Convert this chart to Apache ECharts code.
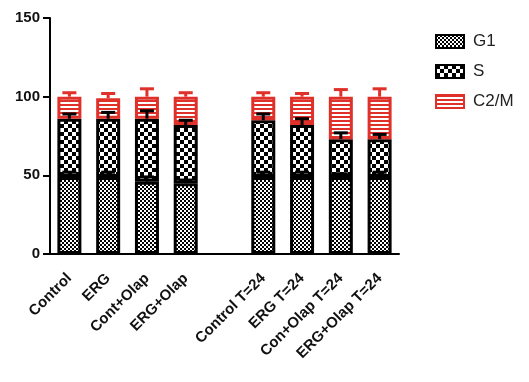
<!DOCTYPE html>
<html>
<head>
<meta charset="utf-8">
<script src="https://cdn.jsdelivr.net/npm/echarts@6/dist/echarts.min.js"></script>
<style>
html,body{margin:0;padding:0;background:#fff;}
#chart{width:529px;height:382px;}
</style>
</head>
<body>
<div id="chart"></div>
<script>
const categories = ['Control','ERG','Cont+Olap','ERG+Olap','','Control T=24','ERG T=24','Con+Olap T=24','ERG+Olap T=24'];
const g1Values  = [49, 49, 46, 45, null, 49, 49, 49, 49];
const sValues   = [37, 37, 40, 37, null, 36, 33, 24, 24];
const g2mValues = [14, 13, 14, 18, null, 15, 18, 27, 27];
const g1Err  = [3, 3, 3, 2, null, 3, 3, 2, 3];
const sErr   = [3, 4, 5, 3, null, 4, 4, 4, 3];
const g2mErr = [2.5, 3, 5, 2.5, null, 2.5, 2, 4.5, 5];
const yTicks = [0, 50, 100, 150];
const seriesNames = ['G1', 'S', 'C2/M'];

const RED = '#e0302a';

function checkPattern(size) {
  const c = document.createElement('canvas');
  c.width = size * 2; c.height = size * 2;
  const ctx = c.getContext('2d');
  ctx.fillStyle = '#fff'; ctx.fillRect(0, 0, size * 2, size * 2);
  ctx.fillStyle = '#000';
  ctx.fillRect(0, 0, size, size);
  ctx.fillRect(size, size, size, size);
  return c;
}
function stripePattern() {
  const c = document.createElement('canvas');
  c.width = 4; c.height = 4;
  const ctx = c.getContext('2d');
  ctx.fillStyle = '#fff'; ctx.fillRect(0, 0, 4, 4);
  ctx.fillStyle = RED; ctx.fillRect(0, 0, 4, 2);
  return c;
}

const toData = arr => arr.map(v => v == null ? '-' : v);

function errData(kind) {
  const out = [];
  for (let i = 0; i < categories.length; i++) {
    if (g1Values[i] == null) continue;
    if (kind === 0) out.push([i, g1Values[i], g1Err[i]]);
    else if (kind === 1) out.push([i, g1Values[i] + sValues[i], sErr[i]]);
    else out.push([i, g1Values[i] + sValues[i] + g2mValues[i], g2mErr[i]]);
  }
  return out;
}

function errSeries(kind, color) {
  return {
    type: 'custom',
    z: 5,
    silent: true,
    data: errData(kind),
    renderItem: function (params, api) {
      const x = api.value(0), top = api.value(1), e = api.value(2);
      const p0 = api.coord([x, top]);
      const p1 = api.coord([x, top + e]);
      return {
        type: 'group',
        children: [
          { type: 'line', shape: { x1: p0[0], y1: p0[1], x2: p1[0], y2: p1[1] }, style: { stroke: color, lineWidth: 3 } },
          { type: 'line', shape: { x1: p1[0] - 7, y1: p1[1], x2: p1[0] + 7, y2: p1[1] }, style: { stroke: color, lineWidth: 3 } }
        ]
      };
    }
  };
}

const chart = echarts.init(document.getElementById('chart'), null, { renderer: 'canvas' });
const option = {
  animation: false,
  backgroundColor: '#fff',
  textStyle: { fontFamily: 'Liberation Sans, Arial, sans-serif' },
  grid: { left: 50, right: 130, top: 18, bottom: 128 },
  legend: {
    data: seriesNames,
    orient: 'vertical',
    left: 430,
    top: 28,
    icon: 'rect',
    itemWidth: 28,
    itemHeight: 13,
    itemGap: 13,
    textStyle: { fontSize: 17, color: '#222', fontFamily: 'Liberation Sans, Arial, sans-serif', padding: [0, 0, 0, 4] }
  },
  xAxis: {
    type: 'category',
    data: categories,
    axisLine: { lineStyle: { color: '#000', width: 2 } },
    axisTick: { alignWithLabel: true, interval: 0, length: 7, lineStyle: { color: '#000', width: 2 } },
    axisLabel: { interval: 0, rotate: 45, fontSize: 15, fontWeight: 'bold', color: '#111', margin: 22 }
  },
  yAxis: {
    type: 'value',
    min: 0, max: 150, interval: 50,
    splitLine: { show: false },
    axisLine: { show: true, lineStyle: { color: '#000', width: 2 } },
    axisTick: { show: true, length: 7, lineStyle: { color: '#000', width: 2 } },
    axisLabel: { fontSize: 15, fontWeight: 'bold', color: '#111', margin: 10,
      formatter: v => yTicks.includes(v) ? String(v) : '' }
  },
  series: [
    { name: seriesNames[0], type: 'bar', stack: 'a', barWidth: 24, data: toData(g1Values),
      itemStyle: { color: { image: checkPattern(2), repeat: 'repeat' }, borderColor: '#000', borderWidth: 3 } },
    { name: seriesNames[1], type: 'bar', stack: 'a', barWidth: 24, data: toData(sValues),
      itemStyle: { color: { image: checkPattern(4), repeat: 'repeat' }, borderColor: '#000', borderWidth: 3 } },
    { name: seriesNames[2], type: 'bar', stack: 'a', barWidth: 24, data: toData(g2mValues),
      itemStyle: { color: { image: stripePattern(), repeat: 'repeat' }, borderColor: RED, borderWidth: 3 } },
    errSeries(0, '#000'),
    errSeries(1, '#000'),
    errSeries(2, RED)
  ]
};
chart.setOption(option);
</script>
</body>
</html>
